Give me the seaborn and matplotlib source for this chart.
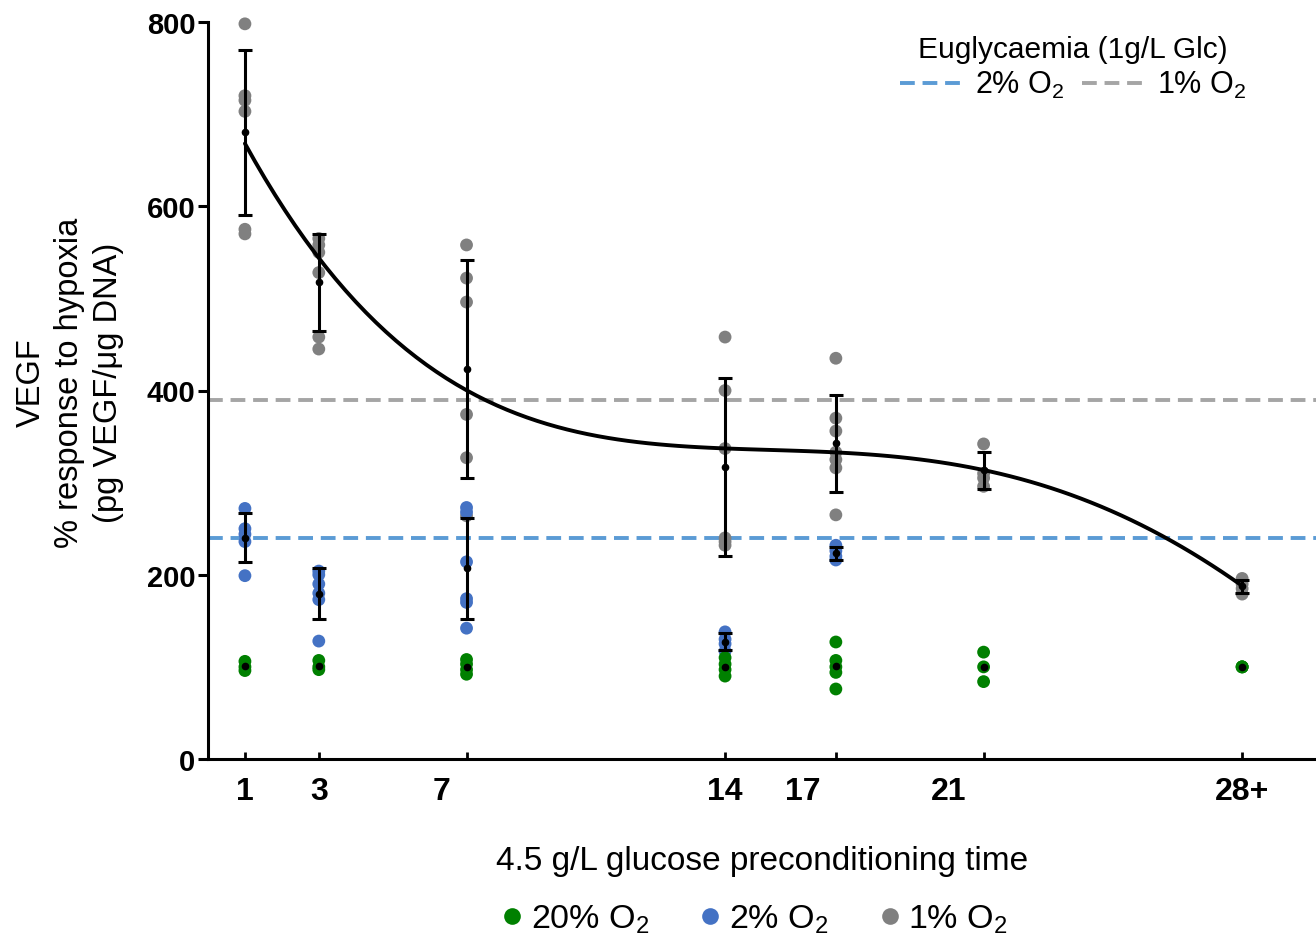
import numpy as np
import pandas as pd
import matplotlib
matplotlib.use("Agg")
import matplotlib.pyplot as plt
from matplotlib.lines import Line2D
import seaborn as sns

# ---------------- data ----------------
days = [1, 3, 7, 14, 17, 21, 28]
tick_labels = ["1", "3", "7", "14", "17", "21", "28+"]

# 20% O2 (normoxia, normalised to 100)
green_vals = {
    1: [106, 100, 96],
    3: [107, 100, 97],
    7: [108, 103, 97, 92],
    14: [110, 103, 97, 90],
    17: [127, 107, 100, 94, 76],
    21: [116, 100, 84],
    28: [100, 100, 100],
}
# 2% O2
blue_vals = {
    1: [272, 250, 244, 236, 199],
    3: [204, 200, 190, 180, 173, 128],
    7: [273, 268, 214, 174, 170, 142],
    14: [138, 130, 125, 117],
    17: [232, 226, 220, 216],
}
# 1% O2
gray_vals = {
    1: [798, 720, 715, 703, 575, 570],
    3: [565, 558, 550, 528, 458, 445],
    7: [558, 522, 496, 374, 327, 264],
    14: [458, 400, 337, 240, 236, 232],
    17: [435, 370, 356, 333, 325, 316, 265],
    21: [342, 310, 305, 296],
    28: [196, 190, 185, 179],
}
eugly_2 = 240
eugly_1 = 390

series_names = ["1% O$_2$", "2% O$_2$", "20% O$_2$"]
series_data = [gray_vals, blue_vals, green_vals]
colors = {"20% O$_2$": "#008000", "2% O$_2$": "#4472C4", "1% O$_2$": "#808080"}

rows = []
for name, d in zip(series_names, series_data):
    for day, vals in d.items():
        for v in vals:
            rows.append({"group": name, "day": day, "value": v})
df = pd.DataFrame(rows)

# ---------------- style ----------------
sns.set_theme(style="white")
plt.rcParams["font.family"] = ["Liberation Sans", "DejaVu Sans"]
plt.rcParams["mathtext.fontset"] = "custom"
plt.rcParams["mathtext.rm"] = "Liberation Sans"
plt.rcParams["mathtext.default"] = "regular"
for k in ["text.color", "axes.labelcolor", "xtick.color", "ytick.color"]:
    plt.rcParams[k] = "black"

fig = plt.figure(figsize=(13.16, 9.53), dpi=100)
ax = fig.add_axes([208 / 1316, 1 - 760 / 953, (1316 - 208) / 1316, (760 - 23) / 953])

dash = (0, (3.8, 2.0))
# euglycaemia reference lines
ax.axhline(eugly_2, color="#5B9BD5", lw=2.8, ls=dash, zorder=1)
ax.axhline(eugly_1, color="#A5A5A5", lw=2.8, ls=dash, zorder=1)

# individual points
sns.scatterplot(data=df, x="day", y="value", hue="group", palette=colors,
                s=85, edgecolor="none", legend=False, ax=ax, zorder=3,
                clip_on=False)

# mean +/- SD
stats = df.groupby(["group", "day"])["value"].agg(["mean", "std"]).reset_index()
for name in ["1% O$_2$", "2% O$_2$"]:
    s = stats[stats.group == name]
    ax.errorbar(s["day"], s["mean"], yerr=s["std"], fmt="o", color="black",
                ms=4.5, elinewidth=2.2, capsize=5, capthick=2.2, zorder=5)
s = stats[stats.group == "20% O$_2$"]
ax.plot(s["day"], s["mean"], "o", color="black", ms=4.5, zorder=5)

# polynomial fit through the 1% O2 data
sns.regplot(data=df[df.group == "1% O$_2$"], x="day", y="value", order=4,
            ci=None, scatter=False, truncate=True,
            line_kws=dict(color="black", lw=2.8, zorder=6), ax=ax)

# ---------------- axes ----------------
ax.set_xlim(0, 30)
ax.set_ylim(0, 800)
ax.set_xlabel("")
ax.set_ylabel("")
for sp in ["top", "right"]:
    ax.spines[sp].set_visible(False)
for sp in ["left", "bottom"]:
    ax.spines[sp].set_linewidth(2.2)
    ax.spines[sp].set_color("black")

ax.set_yticks([0, 200, 400, 600, 800])
ax.set_yticklabels(["0", "200", "400", "600", "800"], fontsize=21,
                   fontweight="bold")
ax.tick_params(axis="y", direction="out", length=7, width=2.2, pad=2,
               left=True)

label_pos = [1, 3, 6.31, 14, 16.11, 20.04, 28]
ax.xaxis.remove_overlapping_locs = False
ax.set_xticks(days)
ax.set_xticklabels([""] * len(days))
ax.tick_params(axis="x", which="major", direction="in", length=5, width=2.0,
               bottom=True)
ax.set_xticks(label_pos, minor=True)
ax.set_xticklabels(tick_labels, minor=True, fontsize=23, fontweight="bold")
ax.tick_params(axis="x", which="minor", length=0, pad=12)

fig.text(762 / 1316, 1 - 862 / 953, "4.5 g/L glucose preconditioning time",
         ha="center", va="center", fontsize=24)
fig.text(70 / 1316, 1 - 383 / 953,
         "VEGF\n% response to hypoxia\n(pg VEGF/\u03bcg DNA)",
         ha="center", va="center", rotation=90, fontsize=23.5,
         multialignment="center", linespacing=1.32)

# ---------------- legends ----------------
top_handles = [Line2D([], [], color="#5B9BD5", lw=2.8, ls=dash),
               Line2D([], [], color="#A5A5A5", lw=2.8, ls=dash)]
fig.legend(top_handles, ["2% O$_2$", "1% O$_2$"],
           title="Euglycaemia (1g/L Glc)", ncol=2, loc="upper right",
           bbox_to_anchor=(1262 / 1316, 1 - 21 / 953), frameon=False,
           fontsize=22, title_fontsize=21.5, handlelength=2.0,
           handletextpad=0.45, columnspacing=0.6, borderpad=0,
           labelspacing=0.2)

bottom_names = ["20% O$_2$", "2% O$_2$", "1% O$_2$"]
bot_handles = [Line2D([], [], marker="o", ls="", color=colors[n], ms=12,
                      markeredgewidth=0) for n in bottom_names]
fig.legend(bot_handles, bottom_names, ncol=3, loc="center",
           bbox_to_anchor=(754 / 1316, 1 - 920 / 953), frameon=False,
           fontsize=24.5, handlelength=0.7, handletextpad=0.2,
           columnspacing=1.45)

fig.savefig("out.png", dpi=100)
